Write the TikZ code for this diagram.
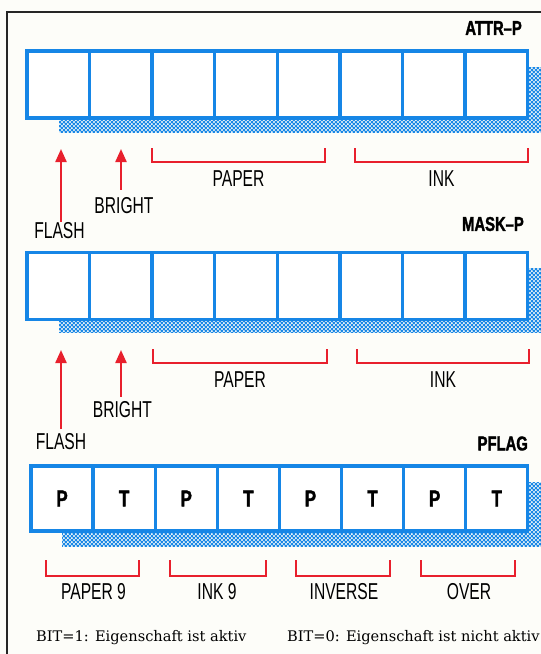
\documentclass[tikz,border=0pt]{standalone}
\usepackage{fontspec}
\setmainfont{Liberation Serif}
\newfontfamily\lblfont{Liberation Sans}[FakeStretch=0.68]
\newfontfamily\hdfont{Liberation Sans}[FakeStretch=0.74, BoldFeatures={FakeBold=1.6}]
\newfontfamily\bitfont{DejaVu Serif}
\usetikzlibrary{arrows.meta,patterns.meta}

\definecolor{regblue}{RGB}{22,134,230}
\definecolor{brred}{RGB}{232,32,45}
\definecolor{paperbg}{RGB}{253,253,249}

\tikzdeclarepattern{
  name=shadowdots,
  type=uncolored,
  bounding box={(0pt,0pt) and (4.4pt,4.4pt)},
  tile size={(4.4pt,4.4pt)},
  code={
    \fill (1.1pt,1.1pt) circle (1.25pt);
    \fill (3.3pt,3.3pt) circle (1.25pt);
  }
}

\begin{document}
\begin{tikzpicture}[x=1pt,y=-1pt,
  cell/.style={draw=regblue, line width=3.3pt, fill=white, minimum width=#1,
    minimum height=67pt, inner sep=0pt, outer sep=0pt},
  lbl/.style={inner sep=0pt, font=\lblfont\fontsize{23}{23}\selectfont},
  hd/.style={inner sep=0pt, anchor=east, font=\hdfont\bfseries\fontsize{20}{20}\selectfont},
  bitlbl/.style={font=\hdfont\bfseries\fontsize{23}{23}\selectfont},
  redarrow/.style={draw=brred, line width=2.2pt, -{Triangle[width=11pt,length=13pt]}},
  brk/.style={draw=brred, line width=1.6pt},
  bittext/.style={inner sep=0pt, anchor=base west, font=\bitfont\fontsize{14.6}{16}\selectfont}]

\fill[paperbg] (0,0) rectangle (541,654);
\useasboundingbox (0,0) rectangle (541,654);

% frame
\draw[line width=2pt, black!85] (7,654) -- (7,12) -- (541,12);

% ---------- ATTR-P ----------
\node[hd] (attr) at (522,28) {ATTR–P};
\fill[regblue] (58.6,67) rectangle (541,132.5);
\fill[pattern=shadowdots, pattern color=paperbg] (58.6,67) rectangle (541,132.5);
\foreach \i in {1,...,8}
  \node[cell=62.6pt] (a\i) at ({26.9+62.6*(\i-0.5)},84.5) {};

\coordinate (ta1) at (61,149);
\coordinate (tb1) at (121,149);
\node[lbl] (flash1) at (59.5,231) {FLASH};
\node[lbl] (bright1) at (124,206) {BRIGHT};
\draw[redarrow, shorten <=1pt] (flash1.north -| ta1) -- (ta1);
\draw[redarrow, shorten <=8pt] (bright1.north -| tb1) -- (tb1);

\draw[brk] (152,148) -- (152,162) -- (325,162) -- (325,148);
\draw[brk] (355,148) -- (355,162) -- (528,162) -- (528,148);
\node[lbl] (paper1) at (238.5,179) {PAPER};
\node[lbl] (ink1) at (441.5,179) {INK};

% ---------- MASK-P ----------
\node[hd] (mask) at (524,224) {MASK–P};
\fill[regblue] (58.6,268) rectangle (541,333);
\fill[pattern=shadowdots, pattern color=paperbg] (58.6,268) rectangle (541,333);
\foreach \i in {1,...,8}
  \node[cell=62.6pt] (m\i) at ({26.9+62.6*(\i-0.5)},286) {};

\coordinate (ta2) at (61,350);
\coordinate (tb2) at (121,350);
\node[lbl] (flash2) at (61,441.5) {FLASH};
\node[lbl] (bright2) at (122.4,410) {BRIGHT};
\draw[redarrow, shorten <=4pt] (flash2.north -| ta2) -- (ta2);
\draw[redarrow, shorten <=5pt] (bright2.north -| tb2) -- (tb2);

\draw[brk] (153,349) -- (153,363) -- (327,363) -- (327,349);
\draw[brk] (357,349) -- (357,363) -- (529,363) -- (529,349);
\node[lbl] (paper2) at (240,380) {PAPER};
\node[lbl] (ink2) at (443,380) {INK};

% ---------- PFLAG ----------
\node[hd] (pflag) at (528,443.5) {PFLAG};
\fill[regblue] (62,482) rectangle (541,547);
\fill[pattern=shadowdots, pattern color=paperbg] (62,482) rectangle (541,547);
\foreach \i/\t in {1/P,2/T,3/P,4/T,5/P,6/T,7/P,8/T}
  \node[cell=62.1pt, minimum height=65pt, bitlbl] (p\i) at ({31+62.1*(\i-0.5)},498.5) {\t};

\draw[brk] (46,560) -- (46,576) -- (139,576) -- (139,560);
\draw[brk] (170,560) -- (170,576) -- (266,576) -- (266,560);
\draw[brk] (296,560) -- (296,576) -- (390,576) -- (390,560);
\draw[brk] (421,560) -- (421,576) -- (515,576) -- (515,560);
\node[lbl] (pap9) at (93.5,592) {PAPER 9};
\node[lbl] (ink9) at (217,592) {INK 9};
\node[lbl] (inv) at (344,592) {INVERSE};
\node[lbl] (over) at (469,592) {OVER};

% ---------- legend ----------
\node[bittext] (bit1) at (36,641) {BIT=1: Eigenschaft ist aktiv};
\node[bittext] (bit0) at (287,641) {BIT=0: Eigenschaft ist nicht aktiv};
\end{tikzpicture}
\end{document}
